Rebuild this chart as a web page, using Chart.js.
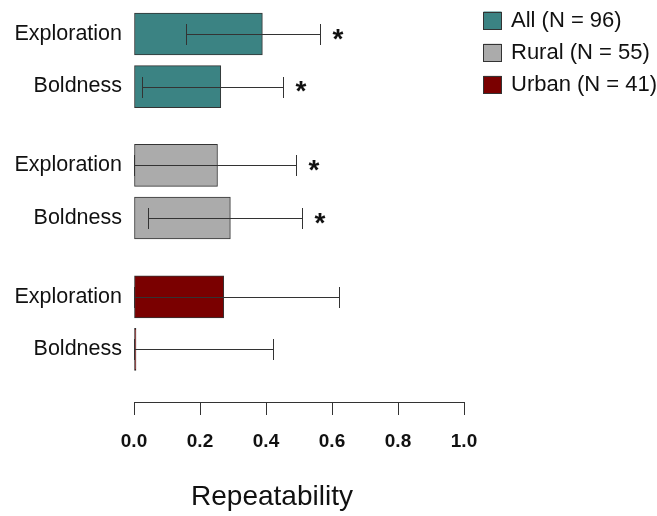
<!DOCTYPE html>
<html>
<head>
<meta charset="utf-8">
<script src="https://cdn.jsdelivr.net/npm/chart.js@4.4.1/dist/chart.umd.min.js"></script>
<style>
  body { margin: 0; background: #fff; }
  #wrap { width: 657px; height: 516px; position: relative; }
</style>
</head>
<body>
<div id="wrap"><canvas id="chart"></canvas></div>
<script>
const traits = ['Exploration', 'Boldness'];
const groupLabels = ['All (N = 96)', 'Rural (N = 55)', 'Urban (N = 41)'];
const repAll = [0.389, 0.263];
const repRural = [0.253, 0.292];
const repUrban = [0.272, 0.0];
const lowerCI = [[0.159, 0.025], [0.0, 0.042], [0.0, 0.0]];
const upperCI = [[0.563, 0.450], [0.492, 0.508], [0.621, 0.421]];
const significant = [[true, true], [true, true], [false, false]];
const xTicks = [0, 0.2, 0.4, 0.6, 0.8, 1.0];

const groupColors = ['#3b8383', '#ababab', '#7a0000'];
const FONT = '"Liberation Sans", Arial, sans-serif';
const INK = '#111';
const LINE = '#333';

// 5 slots per group: trait, gap, trait, gap, gap
const slotOf = (g, t) => g * 5 + t * 2;
const nSlots = 15;
const yLabels = Array(nSlots).fill('');
groupLabels.forEach((_, g) => traits.forEach((tr, t) => { yLabels[slotOf(g, t)] = tr; }));

const reps = [repAll, repRural, repUrban];
const datasets = reps.map((vals, g) => {
  const data = Array(nSlots).fill(null);
  vals.forEach((v, t) => { data[slotOf(g, t)] = v; });
  return {
    label: groupLabels[g],
    data,
    backgroundColor: groupColors[g],
    borderColor: LINE,
    borderWidth: 1,
    borderSkipped: false,
    barThickness: 42,
    minBarLength: 2,
    clip: false,
  };
});

const errorBars = {
  id: 'errorBars',
  afterDatasetsDraw(chart) {
    const ctx = chart.ctx;
    const xs = chart.scales.x;
    ctx.save();
    ctx.strokeStyle = LINE;
    ctx.lineWidth = 1;
    reps.forEach((vals, g) => {
      const meta = chart.getDatasetMeta(g);
      vals.forEach((v, t) => {
        const bar = meta.data[slotOf(g, t)];
        const y = Math.round(bar.y) + 0.5;
        const x0 = Math.round(xs.getPixelForValue(lowerCI[g][t])) + 0.5;
        const x1 = Math.round(xs.getPixelForValue(upperCI[g][t])) + 0.5;
        ctx.beginPath();
        ctx.moveTo(x0, y); ctx.lineTo(x1, y);
        ctx.moveTo(x0, y - 10.5); ctx.lineTo(x0, y + 10.5);
        ctx.moveTo(x1, y - 10.5); ctx.lineTo(x1, y + 10.5);
        ctx.stroke();
        if (significant[g][t]) {
          ctx.fillStyle = INK;
          ctx.font = 'bold 28px ' + FONT;
          ctx.textAlign = 'center';
          ctx.textBaseline = 'alphabetic';
          const m = ctx.measureText('*');
          const off = (m.actualBoundingBoxAscent - m.actualBoundingBoxDescent) / 2;
          ctx.fillText('*', x1 + 17.5, bar.y + off);
        }
      });
    });
    ctx.restore();
  }
};

const extras = {
  id: 'extras',
  afterDraw(chart) {
    const ctx = chart.ctx;
    ctx.save();
    // legend
    ctx.font = '22px ' + FONT;
    ctx.textAlign = 'left';
    ctx.textBaseline = 'middle';
    groupLabels.forEach((lab, g) => {
      const top = 11.5 + g * 32.2;
      ctx.fillStyle = groupColors[g];
      ctx.fillRect(483.5, top, 18, 17.5);
      ctx.strokeStyle = LINE;
      ctx.lineWidth = 1;
      ctx.strokeRect(483.5, Math.round(top) + 0.5, 18, 17);
      ctx.fillStyle = INK;
      ctx.fillText(lab, 511, top + 9.5);
    });
    // axis title
    ctx.font = '28px ' + FONT;
    ctx.textAlign = 'center';
    ctx.textBaseline = 'alphabetic';
    ctx.fillText('Repeatability', 272, 505);
    ctx.restore();
  }
};

new Chart(document.getElementById('chart'), {
  type: 'bar',
  data: { labels: yLabels, datasets },
  options: {
    indexAxis: 'y',
    responsive: true,
    maintainAspectRatio: false,
    animation: false,
    datasets: { bar: { grouped: false } },
    layout: { padding: { top: 34, right: 193, bottom: 0, left: 0 } },
    plugins: { legend: { display: false }, tooltip: { enabled: false } },
    scales: {
      x: {
        min: 0,
        max: 1,
        afterBuildTicks(scale) { scale.ticks = xTicks.map(v => ({ value: v })); },
        afterFit(scale) { scale.height = 114; },
        border: { display: true, color: LINE, width: 1 },
        grid: { drawOnChartArea: false, drawTicks: true, tickLength: 13, color: LINE, lineWidth: 1 },
        ticks: {
          padding: 15,
          color: INK,
          font: { family: FONT, size: 19, weight: 'bold' },
          callback: v => Number(v).toFixed(1),
        },
      },
      y: {
        offset: false,
        afterFit(scale) { scale.width = 134; },
        border: { display: false },
        grid: { display: false, drawTicks: false },
        ticks: {
          autoSkip: false,
          padding: 12,
          color: INK,
          font: { family: FONT, size: 21.5 },
        },
      },
    },
  },
  plugins: [errorBars, extras],
});
</script>
</body>
</html>
